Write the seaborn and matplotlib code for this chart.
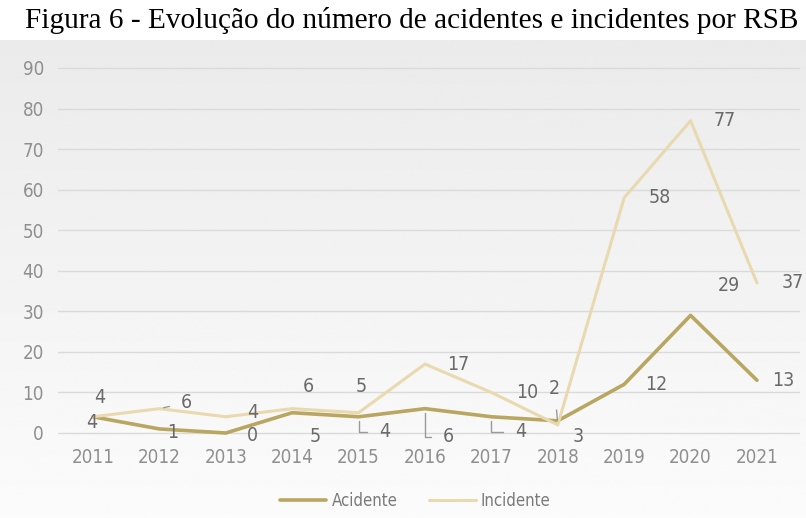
import numpy as np
import pandas as pd
import matplotlib
matplotlib.use("Agg")
import matplotlib.pyplot as plt
import seaborn as sns
from matplotlib import font_manager as fm
from matplotlib.lines import Line2D

years = [2011, 2012, 2013, 2014, 2015, 2016, 2017, 2018, 2019, 2020, 2021]
acidente = [4, 1, 0, 5, 4, 6, 4, 3, 12, 29, 13]
incidente = [4, 6, 4, 6, 5, 17, 10, 2, 58, 77, 37]
series_names = ["Acidente", "Incidente"]
yticks = [0, 10, 20, 30, 40, 50, 60, 70, 80, 90]
title = "Figura 6 - Evolução do número de acidentes e incidentes por RSB"

df = pd.DataFrame({
    "Ano": years + years,
    "Valor": acidente + incidente,
    "Série": [series_names[0]] * len(years) + [series_names[1]] * len(years),
})

sns.set_theme(style="white")
cond = None
for f in fm.findSystemFonts():
    n = f.lower()
    if "liberationsansnarrow-regular" in n or "dejavusanscondensed.ttf" in n:
        cond = f
        if "liberation" in n:
            break
if cond:
    fm.fontManager.addfont(cond)
    cname = fm.FontProperties(fname=cond).get_name()
    plt.rcParams["font.family"] = [cname, "DejaVu Sans"]
    if "DejaVu" in cname:
        plt.rcParams["font.stretch"] = "condensed"
else:
    plt.rcParams["font.family"] = ["DejaVu Sans"]

W, H = 806, 518
fig = plt.figure(figsize=(W / 100, H / 100), dpi=100)
fig.patch.set_facecolor("white")

bg = fig.add_axes([0, 0, 1, (H - 40) / H], zorder=0)
grad = np.linspace(0.92, 0.985, 200)[:, None]
bg.imshow(grad, cmap="gray", vmin=0, vmax=1, aspect="auto", extent=[0, 1, 0, 1])
bg.axis("off")

ax = fig.add_axes([58 / W, (H - 445) / H, (800 - 58) / W, (445 - 60) / H], zorder=1)
ax.patch.set_alpha(0)

colors = {"Acidente": "#b9a660", "Incidente": "#e8d9af"}
widths = {"Acidente": 2.6, "Incidente": 2.2}
sns.lineplot(data=df, x="Ano", y="Valor", hue="Série", palette=colors,
             ax=ax, legend=False, linewidth=2.4)
for line, name in zip(ax.get_lines(), series_names):
    line.set_linewidth(widths[name])

ax.set_xlim(2010.473, 2021.648)
ax.set_ylim(-2.96, 91.97)
ax.set_yticks(yticks)
ax.set_xticks(years)
ax.set_xticklabels([str(y) for y in years])
ax.set_xlabel("")
ax.set_ylabel("")
for s in ax.spines.values():
    s.set_visible(False)
ax.grid(axis="y", color="#dadada", linewidth=1)
ax.grid(axis="x", visible=False)
ax.set_axisbelow(True)
ax.tick_params(axis="x", length=0, pad=2, labelsize=13.5, labelcolor="#8f8f8f")
ax.tick_params(axis="y", length=0, pad=10, labelsize=13.5, labelcolor="#8f8f8f")

lab_color = "#6a6a6a"
lab_size = 14
inc_off = [(7, 19), (27, 6), (27, 4), (16, 22), (3, 26), (33, 0), (36, 0),
           (-3, 36), (36, 0), (34, 0), (36, 0)]
ac_off = [(-1, -6), (13, -4), (27, -3), (23, -24), (26, -15), (23, -28), (29, -15),
          (20, -16), (32, 0), (38, 30), (26, 0)]
inc_lead = {1: "straight", 7: "straight"}
ac_lead = {4: "angle", 5: "angle", 6: "angle"}

def place(vals, offs, leads):
    for i, (x, v) in enumerate(zip(years, vals)):
        kw = {}
        if i in leads:
            cs = "arc3" if leads[i] == "straight" else "angle,angleA=0,angleB=90,rad=0"
            kw["arrowprops"] = dict(arrowstyle="-", color="#9a9a9a", lw=1,
                                    shrinkA=6, shrinkB=3, connectionstyle=cs)
        ax.annotate(str(v), xy=(x, v), xytext=offs[i], textcoords="offset pixels",
                    ha="center", va="center", fontsize=lab_size, color=lab_color, **kw)

place(incidente, inc_off, inc_lead)
place(acidente, ac_off, ac_lead)

handles = [Line2D([], [], color=colors[n], lw=widths[n]) for n in series_names]
fig.legend(handles, series_names, loc="center", bbox_to_anchor=(0.515, (H - 501) / H),
           ncol=2, frameon=False, fontsize=12, labelcolor="#7a7a7a",
           handlelength=2.8, handletextpad=0.3, columnspacing=1.9)

fig.text(0.511, (H - 20) / H, title, ha="center", va="center", fontsize=21.1,
         family=["Liberation Serif", "DejaVu Serif"], color="black")

fig.savefig("out.png", dpi=100)
